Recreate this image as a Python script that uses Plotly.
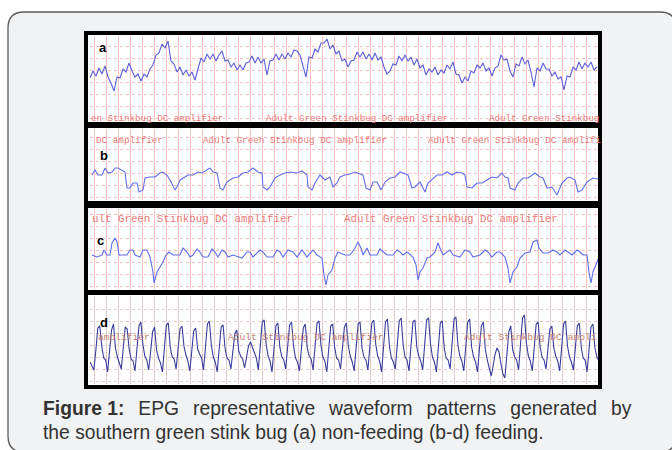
import plotly.graph_objects as go

W, H = 672, 450

# ---------------- data ----------------
# Panel a: non-feeding, sampled every 3 time units
a_step = 3
a_amp = [43, 50, 45, 53, 47, 55, 44, 38, 30, 44,
         43, 52, 49, 58, 50, 44, 47, 40, 47, 44,
         52, 56, 66, 68, 77, 73, 80, 60, 57, 49,
         54, 46, 51, 45, 49, 41, 52, 63, 59, 67,
         62, 67, 60, 66, 70, 60, 61, 54, 58, 51,
         56, 51, 58, 59, 65, 58, 64, 58, 62, 46,
         60, 61, 67, 61, 67, 62, 68, 64, 71, 70,
         66, 55, 44, 64, 63, 72, 69, 78, 78, 82,
         72, 76, 67, 70, 60, 62, 54, 60, 61, 69,
         64, 69, 62, 67, 61, 68, 61, 64, 54, 47,
         50, 57, 56, 65, 60, 66, 60, 64, 56, 62,
         53, 56, 46, 52, 49, 54, 46, 51, 48, 56,
         52, 59, 47, 46, 38, 44, 40, 50, 48, 56,
         53, 58, 50, 53, 45, 53, 55, 66, 61, 62,
         50, 44, 57, 55, 64, 57, 61, 49, 34, 53,
         50, 58, 52, 52, 45, 49, 42, 44, 31, 45,
         44, 54, 51, 59, 52, 58, 54, 59, 51, 54]

# Panel b
b_t = [2, 5, 8, 12, 15, 18, 22, 25, 28, 32, 35, 37, 40, 43, 47, 49, 53, 55, 60, 65,
       70, 73, 77, 81, 85, 88, 90, 95, 98, 103, 108, 112, 117, 120, 123, 127, 130, 133, 137, 140,
       143, 148, 153, 158, 163, 168, 172, 173, 177, 180, 185, 190, 195, 200, 207, 212, 217, 218, 222, 225,
       230, 235, 240, 243, 247, 250, 255, 260, 265, 270, 273, 276, 280, 283, 287, 291, 295, 300, 305, 310,
       315, 318, 322, 325, 330, 335, 338, 343, 347, 352, 357, 362, 367, 372, 375, 377, 382, 387, 392, 397,
       402, 407, 412, 415, 418, 420, 425, 428, 433, 438, 445, 450, 453, 457, 462, 467, 472, 477, 480, 485,
       488, 492, 497, 503, 508]
b_amp = [25, 30, 25, 25, 32, 27, 28, 32, 32, 30, 28, 12, 12, 17, 17, 8, 10, 22, 23, 23,
         27, 28, 25, 18, 10, 15, 20, 23, 25, 25, 28, 27, 30, 32, 28, 27, 12, 10, 18, 20,
         22, 23, 27, 28, 32, 28, 27, 13, 10, 13, 22, 25, 27, 28, 27, 29, 25, 13, 10, 17,
         25, 20, 23, 13, 17, 23, 25, 26, 28, 26, 25, 12, 10, 18, 18, 10, 18, 22, 23, 28,
         26, 25, 12, 13, 18, 8, 17, 22, 25, 25, 28, 25, 28, 27, 25, 13, 12, 17, 17, 20,
         23, 22, 27, 23, 22, 12, 10, 17, 22, 22, 27, 23, 22, 12, 13, 5, 17, 22, 23, 20,
         8, 10, 18, 22, 21]

# Panel c
c_t = [2, 7, 12, 14, 17, 20, 22, 25, 27, 29, 37, 40, 43, 45, 50, 53, 57, 60, 63, 64,
       67, 70, 73, 76, 79, 83, 90, 93, 97, 100, 103, 107, 110, 113, 118, 122, 125, 128, 132, 135,
       138, 143, 148, 152, 157, 160, 163, 170, 173, 177, 183, 187, 190, 193, 198, 203, 207, 212, 217, 223,
       227, 232, 234, 236, 238, 242, 245, 248, 250, 255, 260, 265, 268, 271, 273, 277, 280, 287, 290, 293,
       297, 303, 307, 310, 313, 317, 320, 323, 326, 328, 330, 333, 337, 340, 345, 348, 350, 353, 357, 360,
       363, 370, 375, 380, 383, 390, 395, 398, 402, 407, 410, 415, 418, 420, 423, 427, 430, 435, 440, 443,
       447, 449, 453, 458, 463, 467, 470, 475, 478, 482, 487, 490, 493, 497, 499, 501, 503, 507, 509]
c_amp = [34, 32, 34, 39, 34, 34, 46, 51, 47, 34, 34, 39, 39, 34, 32, 39, 39, 32, 17, 6,
         17, 22, 27, 34, 37, 34, 34, 41, 37, 32, 34, 40, 37, 32, 32, 40, 37, 32, 39, 37,
         32, 34, 32, 31, 37, 37, 32, 39, 37, 32, 32, 39, 37, 32, 39, 37, 32, 39, 32, 39,
         34, 31, 14, 4, 14, 19, 31, 37, 36, 34, 34, 41, 47, 41, 34, 41, 34, 34, 40, 37,
         34, 34, 39, 37, 34, 37, 34, 32, 24, 9, 17, 21, 31, 32, 37, 46, 41, 34, 37, 39,
         34, 32, 39, 37, 32, 34, 39, 37, 32, 37, 37, 32, 21, 6, 17, 22, 31, 36, 37, 47,
         49, 41, 36, 36, 39, 37, 34, 39, 37, 34, 39, 37, 34, 34, 17, 6, 17, 27, 32]

# Panel d: feeding spikes, sampled every 1.957 time units
d_step = 1.957
d_amp = [22, 18,
         14, 34, 56, 58, 38, 26, 24,
         12, 30, 54, 60, 36, 27, 22,
         15, 36, 57, 55, 35, 25, 23,
         13, 33, 58, 62, 40, 28, 24,
         14, 30, 52, 57, 34, 26, 21,
         12, 35, 59, 61, 37, 27, 25,
         15, 32, 55, 58, 38, 29, 23,
         13, 31, 53, 56, 35, 30, 26,
         14, 36, 60, 63, 39, 27, 22,
         12, 34, 57, 59, 36, 26, 24,
         15, 30, 50, 54, 33, 28, 25,
         16, 27, 38, 42, 36, 30, 26,
         14, 38, 62, 64, 40, 28, 23,
         12, 33, 58, 61, 37, 27, 24,
         15, 35, 59, 62, 38, 26, 22,
         13, 32, 56, 60, 36, 28, 25,
         14, 36, 61, 63, 39, 27, 23,
         12, 34, 58, 60, 37, 26, 24,
         15, 33, 57, 61, 38, 28, 22,
         13, 35, 60, 62, 36, 27, 24,
         14, 37, 61, 64, 40, 28, 23,
         12, 36, 62, 65, 38, 26, 22,
         15, 37, 63, 66, 39, 27, 24,
         13, 36, 62, 64, 37, 28, 23,
         14, 38, 64, 66, 40, 27, 22,
         12, 35, 61, 63, 36, 26, 24,
         15, 38, 65, 67, 39, 28, 23,
         13, 36, 62, 65, 37, 27, 22,
         12, 33, 58, 62, 35, 24, 16,
         8, 18, 30, 36, 32, 20, 10,
         6, 30, 52, 58, 34, 27, 24,
         14, 40, 66, 69, 41, 28, 23,
         13, 34, 60, 62, 37, 27, 24,
         15, 33, 55, 58, 36, 28, 23,
         13, 35, 60, 63, 38, 27, 22,
         14, 34, 58, 61, 37, 26, 24,
         12, 33, 57, 60, 36, 27, 23]

panel_letters = ["a", "b", "c", "d"]
label_text = [
    [("en Stinkbug DC amplifier", 90), ("Adult Green Stinkbug DC amplifier", 265), ("Adult Green Stinkbug", 488)],
    [("DC amplifier", 95), ("Adult Green Stinkbug DC amplifier", 202), ("Adult Green Stinkbug DC amplifi", 427)],
    [("ult Green Stinkbug DC amplifier", 91), ("Adult Green Stinkbug DC amplifier", 343)],
    [("amplifier", 97), ("Adult Stinkbug DC amplifier", 227), ("Adult Stinkbug DC ampli", 463)],
]
# caption (first line is justified in the source, hence the wider word gaps)
caption1_words = ["<b>Figure 1:</b>", "EPG", "representative", "waveform", "patterns", "generated", "by"]
caption2 = "the southern green stink bug (a) non-feeding (b-d) feeding."

# ---------------- layout constants ----------------
X0, X1 = 90, 598                     # plot area left/right (px)
PAN = [(36, 121), (129, 200), (209, 289), (296, 384)]   # top/bottom (px)
label_y = [118, 140, 219, 337]
label_size = [9.2, 9.3, 10.8, 9.6]
label_color = ["#e77a7a", "#e77a7a", "#e77a7a", "#c9806e"]
letter_pos = [(103, 47), (104, 155), (100, 240), (104, 322)]
line_colors = ["#5c5fdc", "#5f6ef0", "#5f6ef0", "#3a3d9c"]
CAP_SIZE = 19.3


def px(x):
    return x / W


def py(y):
    return 1 - y / H


a_t = [i * a_step for i in range(len(a_amp))]
d_t = [i * d_step for i in range(len(d_amp))]
series = [(a_t, a_amp), (b_t, b_amp), (c_t, c_amp), (d_t, d_amp)]

fig = go.Figure()
layout = dict(width=W, height=H, margin=dict(l=0, r=0, t=0, b=0), autosize=False,
              paper_bgcolor="white", plot_bgcolor="rgba(0,0,0,0)", showlegend=False)

grid_pink = "rgba(238,140,140,0.55)"
grid_grey = "rgba(200,160,160,0.55)"
for i, (top, bot) in enumerate(PAN):
    n = "" if i == 0 else str(i + 1)
    gc = grid_grey if i == 3 else grid_pink
    layout["xaxis" + n] = dict(domain=[px(X0), px(X1)], range=[0, X1 - X0], anchor="y" + n,
                               showgrid=True, gridcolor=gc, gridwidth=1, dtick=12, tick0=4,
                               showticklabels=False, zeroline=False, showline=False, ticks="",
                               fixedrange=True)
    layout["yaxis" + n] = dict(domain=[py(bot), py(top)], range=[0, bot - top], anchor="x" + n,
                               showgrid=True, gridcolor=gc, gridwidth=1, griddash="dot", dtick=12, tick0=3,
                               showticklabels=False, zeroline=False, showline=False, ticks="",
                               fixedrange=True)
    t, v = series[i]
    fig.add_trace(go.Scatter(x=t[:len(v)], y=v[:len(t)], mode="lines", xaxis="x" + n, yaxis="y" + n,
                             line=dict(color=line_colors[i], width=1.1), hoverinfo="skip"))

# shapes: rounded background box, white panels, black frames
L, R, T, B, r = 8, 676, 12, 452, 16
pts = lambda x, y: f"{px(x):.5f},{py(y):.5f}"
path = (f"M {pts(L + r, T)} L {pts(R - r, T)} Q {pts(R, T)} {pts(R, T + r)} "
        f"L {pts(R, B - r)} Q {pts(R, B)} {pts(R - r, B)} L {pts(L + r, B)} "
        f"Q {pts(L, B)} {pts(L, B - r)} L {pts(L, T + r)} Q {pts(L, T)} {pts(L + r, T)} Z")
shapes = [dict(type="path", path=path, xref="paper", yref="paper", fillcolor="#f1f2f4",
               line=dict(color="#5a5a5a", width=1.3), layer="below")]
for top, bot in PAN:
    shapes.append(dict(type="rect", xref="paper", yref="paper", x0=px(86), x1=px(600),
                       y0=py(bot + 3), y1=py(top - 3), fillcolor="white", line=dict(width=0), layer="below"))
for top, bot in PAN:
    shapes.append(dict(type="rect", xref="paper", yref="paper", x0=px(86), x1=px(600),
                       y0=py(bot + 3), y1=py(top - 3), fillcolor="rgba(0,0,0,0)",
                       line=dict(color="black", width=4), layer="above"))
layout["shapes"] = shapes

ann = []
for i, rows in enumerate(label_text):
    for txt, xl in rows:
        ann.append(dict(text=txt, x=px(xl), y=py(label_y[i]), xref="paper", yref="paper",
                        xanchor="left", yanchor="middle", showarrow=False, borderpad=0,
                        font=dict(family="Liberation Mono", size=label_size[i], color=label_color[i])))
for letter, (lx, ly) in zip(panel_letters, letter_pos):
    ann.append(dict(text=f"<b>{letter}</b>", x=px(lx), y=py(ly), xref="paper", yref="paper",
                    xanchor="center", yanchor="middle", showarrow=False, borderpad=0,
                    font=dict(family="Liberation Sans", size=13, color="black")))
caption1 = "\u00a0\u2006 ".join(caption1_words)
for txt, yy in [(caption1, 408), (caption2, 432)]:
    ann.append(dict(text=txt, x=px(42), y=py(yy), xref="paper", yref="paper",
                    xanchor="left", yanchor="middle", showarrow=False, borderpad=0,
                    font=dict(family="Liberation Sans", size=CAP_SIZE, color="#333333")))
layout["annotations"] = ann

fig.update_layout(**layout)
fig.write_html("out.html", post_script="document.body.style.margin='0';",
               config={"displayModeBar": False})
